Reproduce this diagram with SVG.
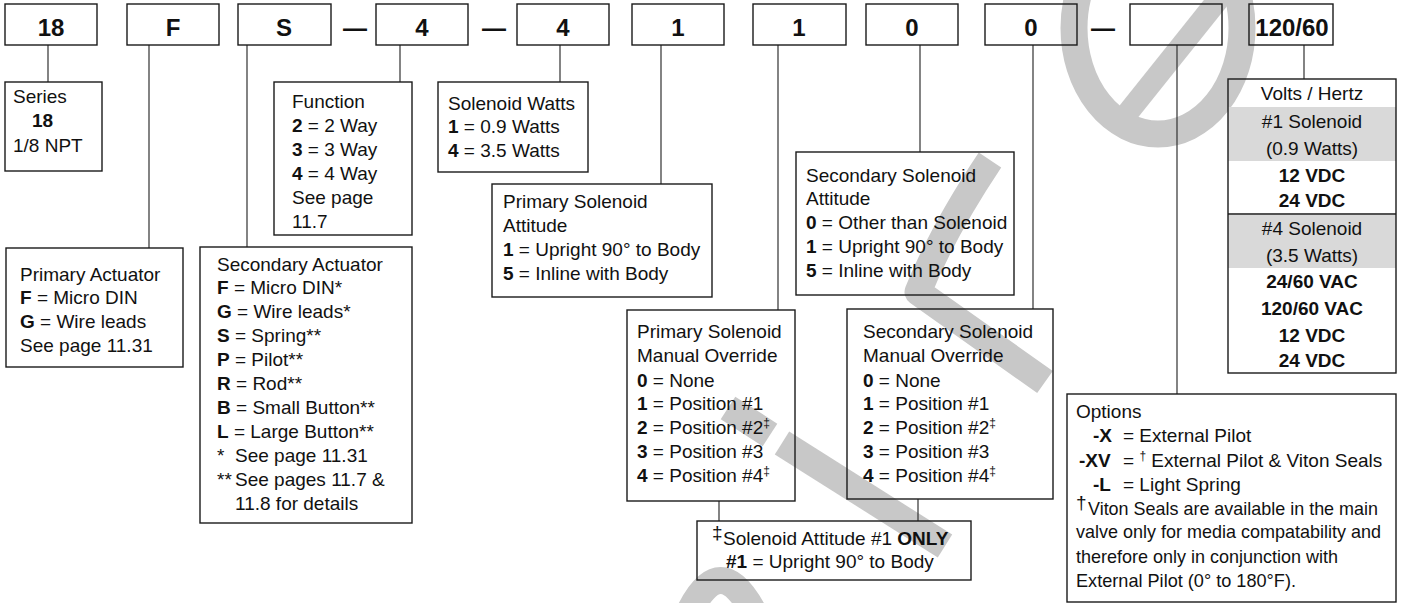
<svg xmlns="http://www.w3.org/2000/svg" width="1401" height="603" viewBox="0 0 1401 603">
<style>
.box{fill:none;stroke:#1a1a1a;stroke-width:1.4}
.con{fill:none;stroke:#333;stroke-width:1.2}
.t{font-family:"Liberation Sans",Arial,sans-serif;font-size:19px;fill:#111}
.b{font-weight:bold}
.code{font-family:"Liberation Sans",Arial,sans-serif;font-size:24px;font-weight:bold;fill:#111;text-anchor:middle}
.c{text-anchor:middle}
.wm{fill:none;stroke:#c8c8c8;stroke-width:27}
.shade{fill:#d9d9d9}
</style>
<rect width="1401" height="603" fill="#ffffff"/>
<g id="watermark">
<ellipse class="wm" cx="1158" cy="28" rx="84" ry="106"/>
<path class="wm" style="stroke-width:22" d="M1118,125 L1222,-5"/>
<path class="wm" d="M990,160 Q942,232 918,292 L1045,382" stroke-linejoin="round"/>
<path class="wm" d="M728,408 L770,435"/>
<path class="wm" d="M782,443 L945,546"/>
<path class="wm" d="M688,615 Q720,546 755,615"/>
</g>
<g id="connectors">
<path class="con" d="M48,45V82 M149,45V248 M247,45V247 M400,45V82 M560,45V82 M661,45V184 M778,45V310 M920,45V152 M1033,45V309 M1177,45V394 M1304,45V79 M719,501V521 M918,499V521"/>
</g>
<g id="codes">
<g id="c18"><rect class="box" x="5" y="4" width="92" height="41"/><text class="code" x="51" y="36">18</text></g>
<g id="cF"><rect class="box" x="127" y="4" width="92" height="41"/><text class="code" x="173" y="36">F</text></g>
<g id="cS"><rect class="box" x="238" y="4" width="93" height="41"/><text class="code" x="284" y="36">S</text></g>
<text class="code" x="355" y="36">—</text>
<g id="c4a"><rect class="box" x="376" y="4" width="92" height="41"/><text class="code" x="422" y="36">4</text></g>
<text class="code" x="494" y="36">—</text>
<g id="c4b"><rect class="box" x="517" y="4" width="92" height="41"/><text class="code" x="563" y="36">4</text></g>
<g id="c1a"><rect class="box" x="632" y="4" width="92" height="41"/><text class="code" x="678" y="36">1</text></g>
<g id="c1b"><rect class="box" x="753" y="4" width="93" height="41"/><text class="code" x="799" y="36">1</text></g>
<g id="c0a"><rect class="box" x="866" y="4" width="92" height="41"/><text class="code" x="912" y="36">0</text></g>
<g id="c0b"><rect class="box" x="985" y="4" width="92" height="41"/><text class="code" x="1031" y="36">0</text></g>
<text class="code" x="1103" y="36">—</text>
<g id="cOpt"><rect class="box" x="1130" y="4" width="92" height="41"/></g>
<g id="c120"><rect class="box" x="1249" y="4" width="84" height="41"/><text class="code" x="1292" y="36">120/60</text></g>
</g>
<g id="series"><rect class="box" x="5" y="82" width="97" height="89"/>
<text class="t" x="13" y="103">Series</text><text class="t b" x="32" y="127">18</text><text class="t" x="13" y="152">1/8 NPT</text></g>
<g id="function"><rect class="box" x="274" y="82" width="138" height="153"/>
<text class="t" x="292" y="108">Function</text>
<text class="t" x="292" y="132"><tspan class="b">2</tspan> = 2 Way</text>
<text class="t" x="292" y="156"><tspan class="b">3</tspan> = 3 Way</text>
<text class="t" x="292" y="180"><tspan class="b">4</tspan> = 4 Way</text>
<text class="t" x="292" y="204">See page</text>
<text class="t" x="292" y="228">11.7</text></g>
<g id="watts"><rect class="box" x="438" y="82" width="150" height="90"/>
<text class="t" x="448" y="110">Solenoid Watts</text>
<text class="t" x="448" y="133"><tspan class="b">1</tspan> = 0.9 Watts</text>
<text class="t" x="448" y="157"><tspan class="b">4</tspan> = 3.5 Watts</text></g>
<g id="primaryActuator"><rect class="box" x="6" y="248" width="177" height="119"/>
<text class="t" x="20" y="281">Primary Actuator</text>
<text class="t" x="20" y="304"><tspan class="b">F</tspan> = Micro DIN</text>
<text class="t" x="20" y="328"><tspan class="b">G</tspan> = Wire leads</text>
<text class="t" x="20" y="352">See page 11.31</text></g>
<g id="secondaryActuator"><rect class="box" x="200" y="247" width="212" height="276"/>
<text class="t" x="217" y="271">Secondary Actuator</text>
<text class="t" x="217" y="294"><tspan class="b">F</tspan> = Micro DIN*</text>
<text class="t" x="217" y="318"><tspan class="b">G</tspan> = Wire leads*</text>
<text class="t" x="217" y="342"><tspan class="b">S</tspan> = Spring**</text>
<text class="t" x="217" y="366"><tspan class="b">P</tspan> = Pilot**</text>
<text class="t" x="217" y="390"><tspan class="b">R</tspan> = Rod**</text>
<text class="t" x="217" y="414"><tspan class="b">B</tspan> = Small Button**</text>
<text class="t" x="217" y="438"><tspan class="b">L</tspan> = Large Button**</text>
<text class="t" x="217" y="462">*</text><text class="t" x="235" y="462">See page 11.31</text>
<text class="t" x="217" y="486">**</text><text class="t" x="235" y="486">See pages 11.7 &amp;</text>
<text class="t" x="235" y="510">11.8 for details</text></g>
<g id="primaryAttitude"><rect class="box" x="492" y="184" width="220" height="113"/>
<text class="t" x="503" y="208">Primary Solenoid</text>
<text class="t" x="503" y="232">Attitude</text>
<text class="t" x="503" y="256"><tspan class="b">1</tspan> = Upright 90° to Body</text>
<text class="t" x="503" y="280"><tspan class="b">5</tspan> = Inline with Body</text></g>
<g id="primaryOverride"><rect class="box" x="627" y="310" width="168" height="191"/>
<text class="t" x="637" y="338">Primary Solenoid</text>
<text class="t" x="637" y="362">Manual Override</text>
<text class="t" x="637" y="387"><tspan class="b">0</tspan> = None</text>
<text class="t" x="637" y="410"><tspan class="b">1</tspan> = Position #1</text>
<text class="t" x="637" y="434"><tspan class="b">2</tspan> = Position #2<tspan font-size="12" dy="-7">‡</tspan></text>
<text class="t" x="637" y="458"><tspan class="b">3</tspan> = Position #3</text>
<text class="t" x="637" y="482"><tspan class="b">4</tspan> = Position #4<tspan font-size="12" dy="-7">‡</tspan></text></g>
<g id="secondaryAttitude"><rect class="box" x="796" y="152" width="218" height="143"/>
<text class="t" x="806" y="182">Secondary Solenoid</text>
<text class="t" x="806" y="205">Attitude</text>
<text class="t" x="806" y="229"><tspan class="b">0</tspan> = Other than Solenoid</text>
<text class="t" x="806" y="253"><tspan class="b">1</tspan> = Upright 90° to Body</text>
<text class="t" x="806" y="277"><tspan class="b">5</tspan> = Inline with Body</text></g>
<g id="secondaryOverride"><rect class="box" x="847" y="309" width="206" height="190"/>
<text class="t" x="863" y="338">Secondary Solenoid</text>
<text class="t" x="863" y="362">Manual Override</text>
<text class="t" x="863" y="387"><tspan class="b">0</tspan> = None</text>
<text class="t" x="863" y="410"><tspan class="b">1</tspan> = Position #1</text>
<text class="t" x="863" y="434"><tspan class="b">2</tspan> = Position #2<tspan font-size="12" dy="-7">‡</tspan></text>
<text class="t" x="863" y="458"><tspan class="b">3</tspan> = Position #3</text>
<text class="t" x="863" y="482"><tspan class="b">4</tspan> = Position #4<tspan font-size="12" dy="-7">‡</tspan></text></g>
<g id="footnote"><rect class="box" x="697" y="521" width="274" height="59"/>
<text class="t" x="712" y="539" font-size="12">‡</text>
<text class="t" x="723" y="545">Solenoid Attitude #1 <tspan class="b">ONLY</tspan></text>
<text class="t" x="726" y="568"><tspan class="b">#1</tspan> = Upright 90° to Body</text></g>
<g id="volts">
<rect class="shade" x="1228" y="107" width="168" height="54"/>
<rect class="shade" x="1228" y="215" width="168" height="53"/>
<line class="box" x1="1228" y1="214" x2="1396" y2="214"/>
<rect class="box" x="1228" y="79" width="168" height="294"/>
<text class="t c" x="1312" y="100">Volts / Hertz</text>
<text class="t c" x="1312" y="128">#1 Solenoid</text>
<text class="t c" x="1312" y="155">(0.9 Watts)</text>
<text class="t c b" x="1312" y="182">12 VDC</text>
<text class="t c b" x="1312" y="207">24 VDC</text>
<text class="t c" x="1312" y="235">#4 Solenoid</text>
<text class="t c" x="1312" y="262">(3.5 Watts)</text>
<text class="t c b" x="1312" y="288">24/60 VAC</text>
<text class="t c b" x="1312" y="315">120/60 VAC</text>
<text class="t c b" x="1312" y="342">12 VDC</text>
<text class="t c b" x="1312" y="367">24 VDC</text></g>
<g id="options"><rect class="box" x="1067" y="394" width="329" height="208"/>
<text class="t" x="1076" y="418">Options</text>
<text class="t b" x="1093" y="442">-X</text><text class="t" x="1123" y="442">= External Pilot</text>
<text class="t b" x="1079" y="467">-XV</text><text class="t" x="1123" y="467">= <tspan font-size="12" dy="-7">†</tspan><tspan dy="7"> External Pilot &amp; Viton Seals</tspan></text>
<text class="t b" x="1093" y="491">-L</text><text class="t" x="1123" y="491">= Light Spring</text>
<text class="t" x="1076" y="509" font-size="12">†</text><text class="t" x="1088" y="515" textLength="290" lengthAdjust="spacingAndGlyphs">Viton Seals are available in the main</text>
<text class="t" x="1076" y="538" textLength="305" lengthAdjust="spacingAndGlyphs">valve only for media compatability and</text>
<text class="t" x="1076" y="563" textLength="262" lengthAdjust="spacingAndGlyphs">therefore only in conjunction with</text>
<text class="t" x="1076" y="587" textLength="220" lengthAdjust="spacingAndGlyphs">External Pilot (0° to 180°F).</text></g>
</svg>
